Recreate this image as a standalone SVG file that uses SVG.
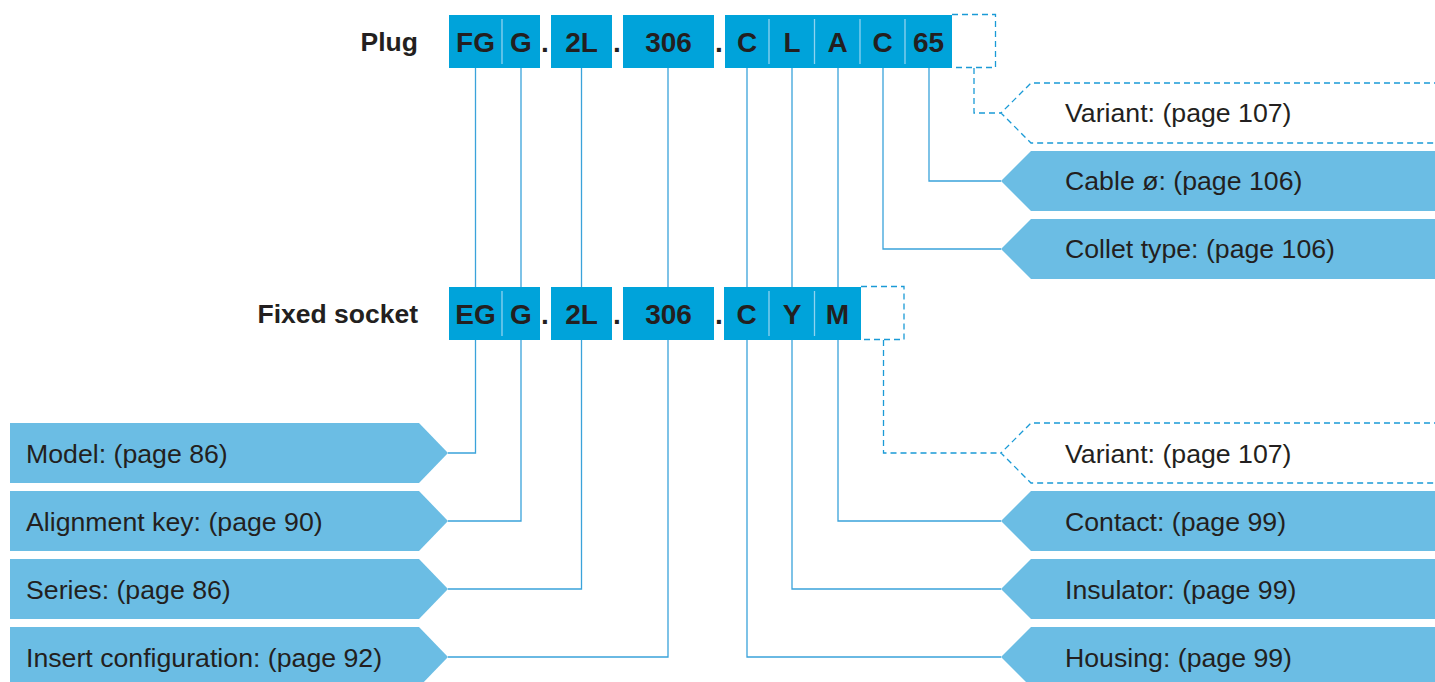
<svg xmlns="http://www.w3.org/2000/svg" width="1435" height="682" viewBox="0 0 1435 682">
<style>
.box{fill:#00a3da}
.div{stroke:#8fd3f0;stroke-width:1.3}
.code{font-family:"Liberation Sans",Arial,sans-serif;font-weight:bold;font-size:28px;fill:#231f20;text-anchor:middle}
.lbl{font-family:"Liberation Sans",Arial,sans-serif;font-weight:bold;font-size:26.5px;fill:#231f20;text-anchor:end}
.desc{font-family:"Liberation Sans",Arial,sans-serif;font-size:26.7px;fill:#231f20}
.chev{fill:#6bbde4}
.dchev{fill:none;stroke:#1a9ad6;stroke-width:1.3;stroke-dasharray:6,4}
.ln{fill:none;stroke:#3aa3da;stroke-width:1.3}
.dln{fill:none;stroke:#1a9ad6;stroke-width:1.3;stroke-dasharray:6,4}
</style>
<rect width="1435" height="682" fill="#ffffff"/>
<g id="connectors">
<path class="ln" d="M475.5,68 V453 H448"/>
<path class="ln" d="M521,68 V521 H448"/>
<path class="ln" d="M581.5,68 V589 H448"/>
<path class="ln" d="M668,68 V657 H448"/>
<path class="ln" d="M747,68 V657 H1001"/>
<path class="ln" d="M792,68 V589 H1001"/>
<path class="ln" d="M838,68 V521 H1001"/>
<path class="ln" d="M883,68 V249 H1001"/>
<path class="ln" d="M929,68 V181 H1001"/>
<path class="dln" d="M974,68 V113 H1001"/>
<path class="dln" d="M883.5,340 V453 H1001"/>
</g>
<g id="plug">
<text class="lbl" x="418" y="51">Plug</text>
<rect class="box" x="449" y="15" width="91" height="53"/>
<line class="div" x1="502" y1="19" x2="502" y2="64"/>
<text class="code" x="475.5" y="51.5">FG</text>
<text class="code" x="521" y="51.5">G</text>
<text class="code" x="545" y="51.5">.</text>
<rect class="box" x="551" y="15" width="61" height="53"/>
<text class="code" x="581.5" y="51.5">2L</text>
<text class="code" x="617" y="51.5">.</text>
<rect class="box" x="623" y="15" width="91" height="53"/>
<text class="code" x="668.5" y="51.5">306</text>
<text class="code" x="719" y="51.5">.</text>
<rect class="box" x="725" y="15" width="227" height="53"/>
<line class="div" x1="769" y1="19" x2="769" y2="64"/>
<line class="div" x1="814.5" y1="19" x2="814.5" y2="64"/>
<line class="div" x1="860" y1="19" x2="860" y2="64"/>
<line class="div" x1="905" y1="19" x2="905" y2="64"/>
<text class="code" x="747" y="51.5">C</text>
<text class="code" x="792" y="51.5">L</text>
<text class="code" x="837.5" y="51.5">A</text>
<text class="code" x="882.5" y="51.5">C</text>
<text class="code" x="928.5" y="51.5">65</text>
<path class="dln" d="M952,14.5 H995.5 V67.5 H952"/>
</g>
<g id="socket">
<text class="lbl" x="418" y="323">Fixed socket</text>
<rect class="box" x="449" y="287" width="91" height="53"/>
<line class="div" x1="502" y1="291" x2="502" y2="336"/>
<text class="code" x="475.5" y="323.5">EG</text>
<text class="code" x="521" y="323.5">G</text>
<text class="code" x="545" y="323.5">.</text>
<rect class="box" x="551" y="287" width="61" height="53"/>
<text class="code" x="581.5" y="323.5">2L</text>
<text class="code" x="617" y="323.5">.</text>
<rect class="box" x="623" y="287" width="91" height="53"/>
<text class="code" x="668.5" y="323.5">306</text>
<text class="code" x="719" y="323.5">.</text>
<rect class="box" x="724" y="287" width="137" height="53"/>
<line class="div" x1="769" y1="291" x2="769" y2="336"/>
<line class="div" x1="814.5" y1="291" x2="814.5" y2="336"/>
<text class="code" x="746.5" y="323.5">C</text>
<text class="code" x="792" y="323.5">Y</text>
<text class="code" x="837.5" y="323.5">M</text>
<path class="dln" d="M861,286.5 H904 V339.5 H861"/>
</g>
<g id="model"><path class="chev" d="M10,423 H419 L448,453 L419,483 H10 Z"/><text class="desc" x="26" y="463">Model: (page 86)</text></g>
<g id="alignment"><path class="chev" d="M10,491 H419 L448,521 L419,551 H10 Z"/><text class="desc" x="26" y="531">Alignment key: (page 90)</text></g>
<g id="series"><path class="chev" d="M10,559 H419 L448,589 L419,619 H10 Z"/><text class="desc" x="26" y="599">Series: (page 86)</text></g>
<g id="insert"><path class="chev" d="M10,627 H419 L448,657 L419,687 H10 Z"/><text class="desc" x="26" y="667">Insert configuration: (page 92)</text></g>
<g id="variant-plug"><path class="dchev" d="M1440,83 H1031 L1001,113 L1031,143 H1440"/><text class="desc" x="1065" y="122">Variant: (page 107)</text></g>
<g id="cable"><path class="chev" d="M1440,151 H1031 L1001,181 L1031,211 H1440 Z"/><text class="desc" x="1065" y="190">Cable ø: (page 106)</text></g>
<g id="collet"><path class="chev" d="M1440,219 H1031 L1001,249 L1031,279 H1440 Z"/><text class="desc" x="1065" y="258">Collet type: (page 106)</text></g>
<g id="variant-socket"><path class="dchev" d="M1440,423 H1031 L1001,453 L1031,483 H1440"/><text class="desc" x="1065" y="463">Variant: (page 107)</text></g>
<g id="contact"><path class="chev" d="M1440,491 H1031 L1001,521 L1031,551 H1440 Z"/><text class="desc" x="1065" y="531">Contact: (page 99)</text></g>
<g id="insulator"><path class="chev" d="M1440,559 H1031 L1001,589 L1031,619 H1440 Z"/><text class="desc" x="1065" y="599">Insulator: (page 99)</text></g>
<g id="housing"><path class="chev" d="M1440,627 H1031 L1001,657 L1031,687 H1440 Z"/><text class="desc" x="1065" y="667">Housing: (page 99)</text></g>
</svg>
